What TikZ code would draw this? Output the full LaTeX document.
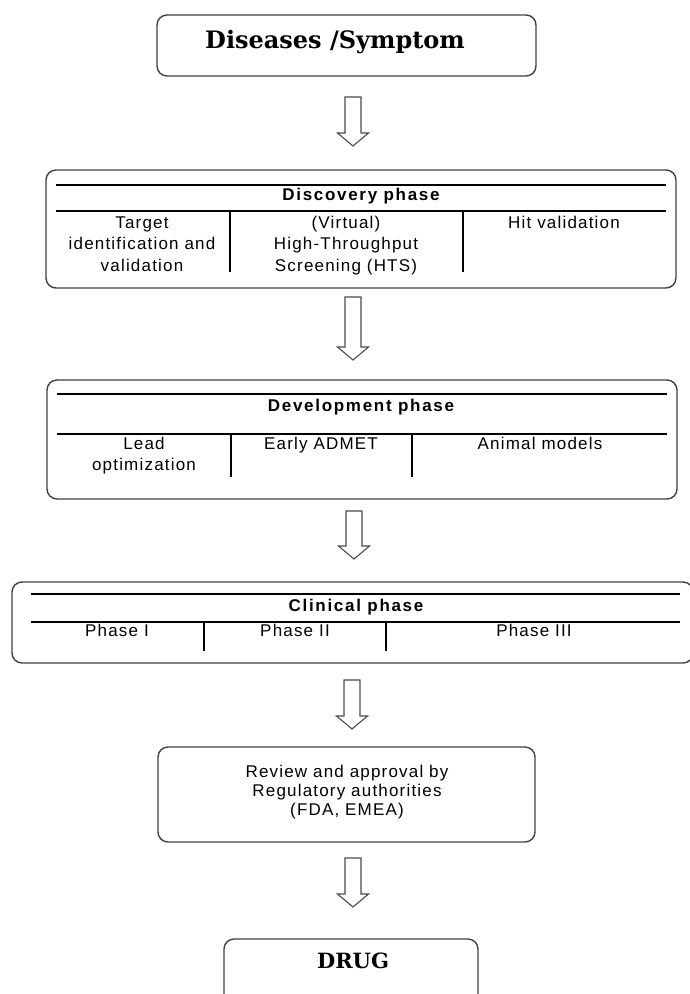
\documentclass[tikz,border=0pt]{standalone}
\usepackage{fontspec}
\newfontfamily\cellfont[LetterSpace=7]{Liberation Sans}
\newfontfamily\headfont[LetterSpace=10]{Liberation Sans}
\newfontfamily\titlefont{DejaVu Serif}
\begin{document}
\begin{tikzpicture}[x=1pt,y=-1pt,
  box/.style={draw=black!75, line width=1.4pt, rounded corners=10pt, inner sep=0pt},
  rule/.style={line width=1.3pt, black},
  head/.style={font=\headfont\bfseries\fontsize{17}{19}\selectfont, inner sep=0pt, anchor=base},
  cell/.style={font=\cellfont\fontsize{17}{21.5}\selectfont, inner sep=0pt, align=center},
  cellone/.style={cell, anchor=base},
  revtext/.style={font=\cellfont\fontsize{17}{19}\selectfont, inner sep=0pt, align=center},
  title/.style={font=\titlefont\bfseries\fontsize{24}{28}\selectfont, inner sep=0pt, anchor=base},
  harrowline/.style={draw=black!70, line width=1.1pt, fill=white, line join=miter},
  pics/harrow/.style={code={\draw[harrowline] (-8,0) -- (-8,#1-13) -- (-15.5,#1-13) -- (0,#1) -- (15.5,#1-13) -- (8,#1-13) -- (8,0) -- cycle;}}
]
\useasboundingbox (0,0) rectangle (690,994);
\clip (0,0) rectangle (690,994);

% boxes
\node[box, minimum width=379pt, minimum height=61pt] (dis) at (346.5,45.5) {};
\node[box, minimum width=630pt, minimum height=118pt] (disc) at (361,229) {};
\node[box, minimum width=630pt, minimum height=119pt] (dev) at (362,439.5) {};
\node[box, minimum width=681pt, minimum height=81pt] (clin) at (352.5,622.5) {};
\node[box, minimum width=377pt, minimum height=95pt] (rev) at (346.5,794.5) {};
\node[box, minimum width=254pt, minimum height=71pt] (drug) at (351,974.5) {};

% title texts
\node[title] (distxt) at (335,48) {Diseases /Symptom};
\node[title, font=\titlefont\bfseries\fontsize{21}{25}\selectfont] (drugtxt) at (353,968) {DRUG};

% discovery phase
\draw[rule] (56,185) -- (666,185);
\draw[rule] (56,211) -- (666,211);
\draw[rule] (230,211) -- (230,272);
\draw[rule] (463,211) -- (463,272);
\node[head] (disch) at (361,200) {Discovery phase};
\node[cell] (c11) at (142,244) {Target\\identification and\\validation};
\node[cell] (c12) at (346,245.5) {(Virtual)\\High-Throughput\\Screening (HTS)};
\node[cellone] (c13) at (564,228) {Hit validation};

% development phase
\draw[rule] (57,394) -- (667,394);
\draw[rule] (57,434) -- (667,434);
\draw[rule] (231,434) -- (231,477);
\draw[rule] (412,434) -- (412,477);
\node[head] (devh) at (361,411) {Development phase};
\node[cell, font=\cellfont\fontsize{17}{21}\selectfont] (c21) at (144,455.7) {Lead\\optimization};
\node[cellone] (c22) at (321,449) {Early ADMET};
\node[cellone] (c23) at (540,449) {Animal models};

% clinical phase
\draw[rule] (31,594) -- (680,594);
\draw[rule] (31,622) -- (680,622);
\draw[rule] (204,622) -- (204,651);
\draw[rule] (386,622) -- (386,651);
\node[head] (clinh) at (356,611) {Clinical phase};
\node[cellone] (c31) at (117,636) {Phase I};
\node[cellone] (c32) at (295,636) {Phase II};
\node[cellone] (c33) at (534,636) {Phase III};

% review
\node[revtext] (revt) at (347,791.7) {Review and approval by\\Regulatory authorities\\(FDA, EMEA)};

% hollow arrows
\pic at (353,97) {harrow=49};
\pic at (353,297) {harrow=63};
\pic at (354,511) {harrow=48};
\pic at (352,680) {harrow=49};
\pic at (353,858) {harrow=49};
\end{tikzpicture}
\end{document}
